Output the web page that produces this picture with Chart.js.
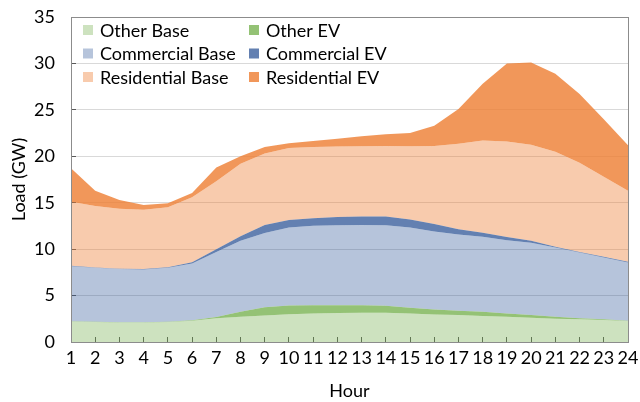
<!DOCTYPE html>
<html>
<head>
<meta charset="utf-8">
<script src="https://cdn.jsdelivr.net/npm/chart.js@4/dist/chart.umd.min.js"></script>
<style>
	body { margin: 0; background: #fff; }
	canvas { display: block; }
</style>
</head>
<body>
<canvas id="loadChart" width="640" height="402"></canvas>
<script>
const hours = ['1','2','3','4','5','6','7','8','9','10','11','12','13','14','15','16','17','18','19','20','21','22','23','24'];

// GW per hour, each series stacked on the one before
const otherBase = [2.2, 2.15, 2.1, 2.1, 2.15, 2.3, 2.55, 2.72, 2.85, 3.0, 3.08, 3.12, 3.15, 3.15, 3.08, 2.97, 2.9, 2.8, 2.72, 2.62, 2.5, 2.44, 2.37, 2.26];
const otherEV = [0.03, 0.03, 0.03, 0.03, 0.03, 0.05, 0.15, 0.54, 0.9, 0.92, 0.89, 0.85, 0.8, 0.75, 0.61, 0.54, 0.47, 0.46, 0.36, 0.28, 0.22, 0.11, 0.07, 0.03];
const commercialBase = [5.94, 5.82, 5.74, 5.69, 5.82, 6.11, 7.0, 7.64, 8.0, 8.41, 8.55, 8.61, 8.65, 8.68, 8.64, 8.39, 8.21, 8.07, 7.89, 7.78, 7.46, 7.09, 6.66, 6.28];
const commercialEV = [0.03, 0.03, 0.03, 0.03, 0.05, 0.14, 0.3, 0.5, 0.85, 0.82, 0.81, 0.87, 0.92, 0.94, 0.87, 0.8, 0.57, 0.43, 0.33, 0.22, 0.07, 0.06, 0.07, 0.06];
const residentialBase = [6.9, 6.62, 6.45, 6.4, 6.45, 7.0, 7.3, 7.8, 7.7, 7.75, 7.67, 7.6, 7.56, 7.6, 7.88, 8.42, 9.21, 9.94, 10.3, 10.35, 10.25, 9.6, 8.63, 7.67];
const residentialEV = [3.6, 1.65, 0.95, 0.5, 0.45, 0.45, 1.5, 0.8, 0.7, 0.5, 0.65, 0.85, 1.07, 1.24, 1.42, 2.18, 3.74, 6.1, 8.4, 8.85, 8.4, 7.4, 6.2, 4.9];

const seriesNames = ['Other Base', 'Other EV', 'Commercial Base', 'Commercial EV', 'Residential Base', 'Residential EV'];
const seriesData = [otherBase, otherEV, commercialBase, commercialEV, residentialBase, residentialEV];
const seriesColors = [
	'rgba(112,173,71,0.35)', 'rgba(112,173,71,0.75)',
	'rgba(47,85,151,0.35)', 'rgba(47,85,151,0.75)',
	'rgba(237,125,49,0.4)', 'rgba(237,125,49,0.8)'
];

const font = { family: 'Lato', size: 18 };

// gray frame round the plot area
const plotFrame = {
	id: 'plotFrame',
	afterDatasetsDraw(chart) {
		const { ctx, chartArea: a } = chart;
		ctx.save();
		ctx.strokeStyle = '#8c8c8c';
		ctx.lineWidth = 1;
		ctx.strokeRect(Math.round(a.left) + 0.5, Math.round(a.top) + 0.5, Math.round(a.right - a.left), Math.round(a.bottom - a.top));
		ctx.restore();
	}
};

// legend inside the plot, 2 columns x 3 rows (row-major like the source)
const gridLegend = {
	id: 'gridLegend',
	afterDraw(chart) {
		const { ctx, chartArea: a } = chart;
		ctx.save();
		ctx.font = font.size + 'px ' + font.family;
		ctx.textBaseline = 'middle';
		chart.data.datasets.forEach((ds, i) => {
			const col = i % 2, row = Math.floor(i / 2);
			const x = a.left + 12 + col * 166;
			const y = a.top + 13 + row * 23.5;
			ctx.fillStyle = ds.backgroundColor;
			ctx.fillRect(x, y - 5, 10, 10);
			ctx.fillStyle = '#000';
			ctx.fillText(ds.label, x + 17, y + 1);
		});
		ctx.restore();
	}
};

new Chart(document.getElementById('loadChart'), {
	type: 'line',
	data: {
		labels: hours,
		datasets: seriesNames.map((name, i) => ({
			label: name,
			data: seriesData[i],
			backgroundColor: seriesColors[i],
			borderWidth: 0,
			pointRadius: 0,
			tension: 0,
			fill: i === 0 ? 'origin' : '-1'
		}))
	},
	options: {
		responsive: false,
		animation: false,
		devicePixelRatio: 1,
		layout: { padding: { left: 4, right: 12, top: 17, bottom: 0 } },
		plugins: {
			legend: { display: false },
			tooltip: { enabled: false }
		},
		scales: {
			x: {
				offset: false,
				grid: { drawOnChartArea: false, tickLength: -5, tickColor: '#595959' },
				border: { color: '#8c8c8c' },
				ticks: { color: '#000', font: font, padding: 10, maxRotation: 0, autoSkip: false },
				title: { display: true, text: 'Hour', color: '#000', font: font, padding: { top: 11, bottom: 0 } },
				afterFit(s) { s.height = 60; s.paddingLeft = 0; s.paddingRight = 0; }
			},
			y: {
				stacked: true,
				min: 0,
				max: 35,
				grid: { color: '#d9d9d9', tickLength: -5, tickColor: '#595959' },
				border: { color: '#8c8c8c' },
				ticks: { stepSize: 5, color: '#000', font: font, padding: 21 },
				title: { display: true, text: 'Load (GW)', color: '#000', font: font, padding: { top: 4, bottom: 4 } },
				afterFit(s) { s.width = 67; s.paddingTop = 0; s.paddingBottom = 0; }
			}
		}
	},
	plugins: [plotFrame, gridLegend]
});
</script>
</body>
</html>
